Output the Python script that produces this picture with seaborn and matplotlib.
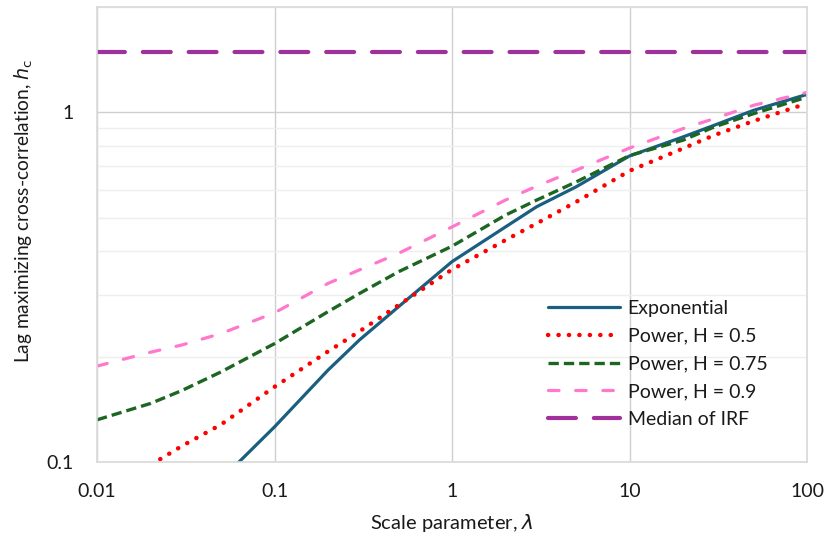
import numpy as np
import pandas as pd
import matplotlib
matplotlib.use("Agg")
import matplotlib.pyplot as plt
from matplotlib.ticker import LogLocator, FixedLocator, FixedFormatter, NullFormatter
import seaborn as sns

# ---- data ----
lam = [0.01, 0.02, 0.03, 0.05, 0.1, 0.2, 0.3, 0.5, 1, 2, 3, 5, 10, 20, 30, 50, 100]
exponential = [np.nan, np.nan, np.nan, 0.089, 0.126, 0.183, 0.223, 0.278, 0.374,
               0.470, 0.537, 0.612, 0.750, 0.850, 0.918, 1.013, 1.125]
power_h05 = [0.080, 0.098, 0.111, 0.128, 0.164, 0.207, 0.236, 0.281, 0.355,
             0.431, 0.481, 0.554, 0.680, 0.788, 0.860, 0.944, 1.060]
power_h075 = [0.132, 0.147, 0.160, 0.181, 0.218, 0.269, 0.303, 0.350, 0.414,
              0.508, 0.561, 0.632, 0.752, 0.832, 0.908, 0.991, 1.105]
power_h09 = [0.188, 0.206, 0.216, 0.233, 0.267, 0.324, 0.354, 0.395, 0.470,
             0.561, 0.615, 0.683, 0.790, 0.898, 0.959, 1.047, 1.140]
median_irf = [1.49] * len(lam)

series_names = ["Exponential", "Power, H = 0.5", "Power, H = 0.75",
                "Power, H = 0.9", "Median of IRF"]
x_ticks = [0.01, 0.1, 1, 10, 100]
x_tick_labels = ["0.01", "0.1", "1", "10", "100"]
y_ticks = [0.1, 1]
y_tick_labels = ["0.1", "1"]

# ---- styling ----
sns.set_theme(style="white")
plt.rcParams["font.family"] = ["Lato", "DejaVu Sans"]
plt.rcParams["mathtext.fontset"] = "dejavusans"

fig = plt.figure(figsize=(8.3, 5.5), dpi=100)
ax = fig.add_axes([97 / 830, 1 - 462 / 550, (807 - 97) / 830, (462 - 7) / 550])

styles = [
    dict(color="#1a5f80", lw=2.3, linestyle="-"),
    dict(color="#ff0000", lw=3.2, linestyle=(0, (0.05, 2.3)), dash_capstyle="round"),
    dict(color="#1c6622", lw=2.4, linestyle=(0, (3.1, 1.5))),
    dict(color="#ff78cc", lw=2.3, linestyle=(0, (3.3, 5.2)), dash_capstyle="round"),
    dict(color="#a0309a", lw=3.0, linestyle=(0, (6.7, 4.3)), dash_capstyle="round"),
]
values = [exponential, power_h05, power_h075, power_h09, median_irf]

for name, vals, st in zip(series_names, values, styles):
    df = pd.DataFrame({"lam": lam, "h": vals}).dropna()
    sns.lineplot(data=df, x="lam", y="h", ax=ax, label=name, **st)

ax.set_xscale("log")
ax.set_yscale("log")
ax.set_xlim(0.01, 100)
ax.set_ylim(0.1, 2)

ax.xaxis.set_major_locator(FixedLocator(x_ticks))
ax.xaxis.set_major_formatter(FixedFormatter(x_tick_labels))
ax.xaxis.set_minor_locator(FixedLocator([]))
ax.yaxis.set_major_locator(FixedLocator(y_ticks))
ax.yaxis.set_major_formatter(FixedFormatter(y_tick_labels))
ax.yaxis.set_minor_locator(LogLocator(base=10, subs=np.arange(2, 10)))
ax.yaxis.set_minor_formatter(NullFormatter())

ax.grid(True, which="major", axis="both", color="#cfcfcf", lw=1.0)
ax.grid(True, which="minor", axis="y", color="#eeeeee", lw=1.0)
ax.set_axisbelow(True)
for sp in ax.spines.values():
    sp.set_color("#d9d9d9")
    sp.set_linewidth(1.2)
ax.tick_params(axis="both", which="both", length=0, labelsize=14, colors="#1a1a1a")
ax.tick_params(axis="x", pad=15)
ax.tick_params(axis="y", pad=17)

ax.set_xlabel(r"Scale parameter, $\lambda$", fontsize=14.5, color="#1a1a1a", labelpad=9)
ax.set_ylabel(r"Lag maximizing cross-correlation, $h_\mathrm{c}$", fontsize=13.8,
              color="#1a1a1a")
ax.yaxis.set_label_coords((35 - 97) / 710, (462 - 211) / 455)

leg = ax.legend(loc="upper left", bbox_to_anchor=(548 / 830, 1 - 300 / 550),
                bbox_transform=fig.transFigure, frameon=False, fontsize=14,
                handlelength=3.7, handletextpad=0.4, labelspacing=0.55,
                borderpad=0, borderaxespad=0)
for t in leg.get_texts():
    t.set_color("#1a1a1a")

fig.savefig("out.png", dpi=100)
